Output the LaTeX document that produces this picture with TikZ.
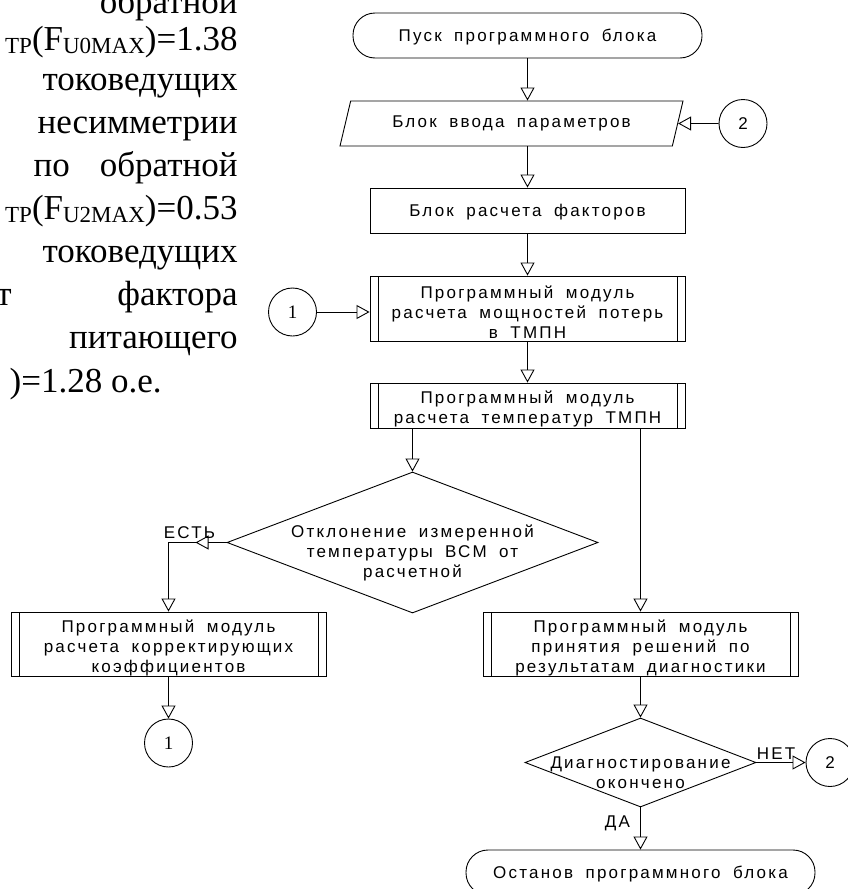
\documentclass[tikz,border=0pt]{standalone}
\usepackage{fontspec}
\setmainfont{Liberation Serif}
\newfontfamily\cadfont[LetterSpace=13, WordSpace=1.8]{Liberation Sans}
\usetikzlibrary{shapes,arrows.meta,calc,positioning}
\newcommand{\cadsize}{\cadfont\fontsize{17}{20}\selectfont}
\newcommand{\lowtext}[1]{\raisebox{-3pt}{\fontsize{23}{23}\selectfont #1}}
\tikzstyle{block} = [rectangle, draw, text width=315pt, inner sep=0pt, align=flush center,
    minimum height=45pt, font=\cadsize, execute at end node={\endgraf\vspace*{-7pt}}]
\tikzstyle{term} = [block, rounded corners=22pt, text width=349pt]
\tikzstyle{io} = [trapezium, draw, trapezium left angle=55, trapezium right angle=125,
    trapezium stretches body, minimum width=343pt, minimum height=45pt, inner sep=0pt, font=\cadsize]
\tikzstyle{module} = [block, path picture={
    \draw ([xshift=8pt]path picture bounding box.north west) -- ([xshift=8pt]path picture bounding box.south west);
    \draw ([xshift=-8pt]path picture bounding box.north east) -- ([xshift=-8pt]path picture bounding box.south east);}]
\tikzstyle{decision} = [diamond, draw, inner sep=0pt]
\tikzstyle{dtext} = [align=center, font=\cadsize, yshift=-10pt]
\tikzstyle{connector} = [circle, draw, minimum size=48pt, inner sep=0pt]
\tikzstyle{tag} = [font=\cadsize, inner sep=3pt]
\tikzstyle{para} = [anchor=base east, inner sep=0pt, font=\fontsize{35}{43}\selectfont]
\tikzstyle{line} = [draw, -{Triangle[open, length=13pt, width=14pt]}]

\begin{document}
\begin{tikzpicture}[node distance=90pt, line width=0.9pt]
    \useasboundingbox (0,0) rectangle (848pt,-889pt);
    % Text of the page beside the chart
    \node [para] (p0) at (238pt,-13pt) {обратной};
    \node [para] (p1) at (238pt,-50pt) {\lowtext{ТР}(F\lowtext{U0MAX})=1.38};
    \node [para] (p2) at (238pt,-90pt) {токоведущих};
    \node [para] (p3) at (238pt,-133pt) {несимметрии};
    \node [para] (p4) at (238pt,-176pt) {по\hspace{30pt}обратной};
    \node [para] (p5) at (238pt,-219pt) {\lowtext{ТР}(F\lowtext{U2MAX})=0.53};
    \node [para] (p6) at (238pt,-262pt) {токоведущих};
    \node [para, anchor=base west] (p7a) at (-4pt,-305pt) {т};
    \node [para] (p7) at (238pt,-305pt) {фактора};
    \node [para] (p8) at (238pt,-348pt) {питающего};
    \node [para] (p9) at (162pt,-392pt) {)=1.28 о.е.};
    % Place nodes
    \node [term] (start) at (527.5pt,-35.5pt) {Пуск программного блока};
    \node [io, below of=start, node distance=88pt, xshift=-16pt] (input) {Блок ввода параметров};
    \node [block, below of=input, node distance=87pt, xshift=16pt] (factors) {Блок расчета факторов};
    \node [module, below of=factors, node distance=98pt, minimum height=65pt] (losses) {Программный модуль\\расчета мощностей потерь\\в ТМПН};
    \node [module, below of=losses, node distance=97pt] (temps) {Программный модуль\\расчета температур ТМПН};
    \node [decision, below of=temps, node distance=137pt, xshift=-115pt, minimum width=371pt, minimum height=141pt,
        label={[dtext]center:Отклонение измеренной\\температуры ВСМ от\\расчетной}] (deviation) {};
    \node [module, below of=deviation, node distance=101.5pt, xshift=-244pt, minimum height=64pt] (coeffs) {Программный модуль\\расчета корректирующих\\коэффициентов};
    \node [module, below of=temps, node distance=238.5pt, xshift=113pt, minimum height=64pt] (verdict) {Программный модуль\\принятия решений по\\результатам диагностики};
    \node [decision, below of=verdict, node distance=118.5pt, minimum width=231pt, minimum height=89pt,
        label={[dtext]center:Диагностирование\\окончено}] (done) {};
    \node [term, below of=done, node distance=110pt] (stop) {Останов программного блока};
    \node [connector, right of=input, node distance=231.5pt, font=\cadsize] (toinput) {2};
    \node [connector, left of=losses, node distance=235pt, yshift=-3.5pt, font=\fontsize{19}{19}\selectfont] (fromcoeffs) {1};
    \node [connector, below of=coeffs, node distance=99pt, font=\fontsize{19}{19}\selectfont] (tolosses) {1};
    \node [connector, right of=done, node distance=189.5pt, font=\cadsize] (again) {2};
    % Draw edges
    \path [line] (start) -- (start |- input.north);
    \path [line] (toinput) -- (input.east);
    \path [line] (factors |- input.south) -- (factors);
    \path [line] (factors) -- (losses);
    \path [line] (fromcoeffs) -- (fromcoeffs -| losses.west);
    \path [line] (losses) -- (temps);
    \path [line] (deviation.north |- temps.south) -- (deviation);
    \path [line] (verdict.north |- temps.south) -- (verdict);
    \path [line] (deviation.west) -- ++(-31pt,0) coordinate (yes) node [tag, above, xshift=-6pt] {ЕСТЬ};
    \path [line] (yes) -| (coeffs);
    \path [line] (coeffs) -- (tolosses);
    \path [line] (verdict) -- (done);
    \path [line] (done) -- node [tag, above, pos=0.4] {НЕТ} (again);
    \path [line] (done) -- node [tag, left=7pt, pos=0.37] {ДА} (stop);
\end{tikzpicture}
\end{document}
